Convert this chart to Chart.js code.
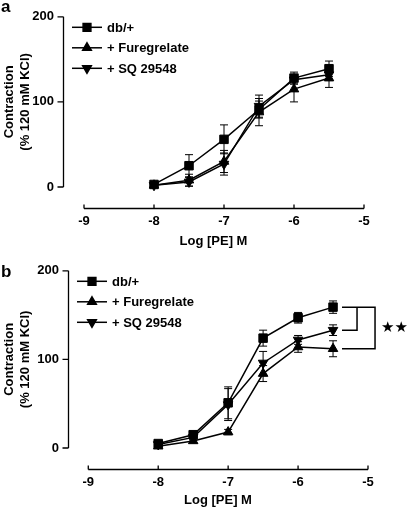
<!DOCTYPE html>
<html>
<head>
<meta charset="utf-8">
<script src="https://cdn.jsdelivr.net/npm/chart.js@4/dist/chart.umd.min.js"></script>
<style>
  html, body { margin: 0; padding: 0; background: #fff; }
  .panel { position: absolute; left: 0; width: 407px; height: 254px; }
</style>
</head>
<body>
<div class="panel" style="top:0"><canvas id="chartA"></canvas></div>
<div class="panel" style="top:254px"><canvas id="chartB"></canvas></div>
<script>
var logConc = [-8, -7.5, -7, -6.5, -6, -5.5];
var seriesNames = ['db/+', '+ Furegrelate', '+ SQ 29548'];
var xTicks = [-9, -8, -7, -6, -5];
var yTicks = [0, 100, 200];

// panel a
var aControl = [3, 25, 56, 91, 128, 139];
var aControlErr = [2, 13, 17, 10, 7, 9];
var aFure = [2, 8, 30, 88, 115, 128];
var aFureErr = [1, 7, 13, 16, 15, 11];
var aSQ = [2, 6, 27, 95, 126, 132];
var aSQErr = [1, 5, 13, 13, 5, 7];

// panel b
var bControl = [5, 15, 51, 124, 147, 159];
var bControlErr = [3, 3, 18, 9, 6, 7];
var bFure = [2, 8, 18, 84, 114, 112];
var bFureErr = [2, 2, 3, 9, 6, 9];
var bSQ = [4, 12, 49, 96, 122, 133];
var bSQErr = [2, 3, 18, 13, 5, 6];

var FONT = 'Liberation Sans, Arial, Helvetica, sans-serif';

function pts(vals) {
  return logConc.map(function (x, i) { return { x: x, y: vals[i] }; });
}

function makeSet(label, vals, errs, style, rot, r) {
  return {
    label: label,
    data: pts(vals),
    errors: errs,
    borderColor: '#000',
    borderWidth: 1.5,
    pointStyle: style,
    pointRotation: rot,
    pointRadius: r,
    pointBackgroundColor: '#000',
    pointBorderColor: '#000',
    pointBorderWidth: 1,
    clip: false,
    tension: 0
  };
}

// error bars, axes, legend, panel letter, brackets
var extras = {
  id: 'extras',
  beforeDatasetsDraw: function (chart) {
    var ctx = chart.ctx, xs = chart.scales.x, ys = chart.scales.y;
    ctx.save();
    ctx.strokeStyle = '#000';
    ctx.lineWidth = 1;
    chart.data.datasets.forEach(function (ds) {
      ds.data.forEach(function (p, i) {
        var e = ds.errors[i];
        if (!e) return;
        var x = xs.getPixelForValue(p.x);
        var y1 = ys.getPixelForValue(p.y + e), y2 = ys.getPixelForValue(p.y - e);
        ctx.beginPath();
        ctx.moveTo(x, y1); ctx.lineTo(x, y2);
        ctx.moveTo(x - 4, y1); ctx.lineTo(x + 4, y1);
        ctx.moveTo(x - 4, y2); ctx.lineTo(x + 4, y2);
        ctx.stroke();
      });
    });
    ctx.restore();
  },
  afterDraw: function (chart) {
    var ctx = chart.ctx, xs = chart.scales.x, ys = chart.scales.y;
    var area = chart.chartArea;
    var o = chart.options.plugins.extras;
    ctx.save();
    ctx.strokeStyle = '#000';
    ctx.fillStyle = '#000';
    ctx.lineWidth = 1.3;

    // y axis
    var ax = Math.round(area.left) + 0.5;
    ctx.beginPath();
    ctx.moveTo(ax, ys.getPixelForValue(yTicks[0]));
    ctx.lineTo(ax, ys.getPixelForValue(yTicks[yTicks.length - 1]));
    yTicks.forEach(function (v) {
      var y = ys.getPixelForValue(v);
      ctx.moveTo(ax, y); ctx.lineTo(ax - 6, y);
    });
    ctx.stroke();

    // x axis, detached below the plot
    var ay = Math.round(area.bottom + o.xGap) + 0.5;
    ctx.beginPath();
    ctx.moveTo(xs.getPixelForValue(xTicks[0]), ay);
    ctx.lineTo(xs.getPixelForValue(xTicks[xTicks.length - 1]), ay);
    xTicks.forEach(function (v) {
      var x = xs.getPixelForValue(v);
      ctx.moveTo(x, ay); ctx.lineTo(x, ay - 4);
    });
    ctx.stroke();

    // legend
    ctx.font = 'bold 13px ' + FONT;
    ctx.textBaseline = 'middle';
    chart.data.datasets.forEach(function (ds, i) {
      var y = area.top + 10.5 + i * 20.5;
      var x0 = area.left + 9;
      ctx.lineWidth = 1.5;
      ctx.beginPath();
      ctx.moveTo(x0, y); ctx.lineTo(x0 + 30, y);
      ctx.stroke();
      Chart.helpers.drawPoint(ctx, {
        pointStyle: ds.pointStyle, rotation: ds.pointRotation,
        radius: ds.pointRadius - 0.5, borderWidth: 1
      }, x0 + 15, y);
      ctx.fillText(ds.label, area.left + 44, y + 1);
    });

    // panel letter
    ctx.font = 'bold 17px ' + FONT;
    ctx.textBaseline = 'alphabetic';
    ctx.fillText(o.letter, 1, o.letterY);

    // significance brackets
    if (o.brackets) {
      var sets = chart.data.datasets;
      var last = logConc.length - 1;
      var xp = xs.getPixelForValue(logConc[last]);
      var yc = ys.getPixelForValue(sets[0].data[last].y);
      var yf = ys.getPixelForValue(sets[1].data[last].y);
      var yq = ys.getPixelForValue(sets[2].data[last].y);
      var x1 = xp + 9, x2 = xp + 24, x3 = xp + 42;
      ctx.lineWidth = 1.5;
      ctx.beginPath();
      ctx.moveTo(x1, yc); ctx.lineTo(x3, yc); ctx.lineTo(x3, yf); ctx.lineTo(x1, yf);
      ctx.moveTo(x2, yc); ctx.lineTo(x2, yq); ctx.lineTo(x1, yq);
      ctx.stroke();
      ctx.font = '15px DejaVu Sans, sans-serif';
      ctx.textBaseline = 'middle';
      ctx.fillText('\u2605\u2605', x3 + 6, (yc + yf) / 2);
    }
    ctx.restore();
  }
};

function makeChart(id, letter, letterY, sets, xMin, pad, brackets, titleBottom) {
  return new Chart(document.getElementById(id), {
    type: 'line',
    data: { datasets: sets },
    options: {
      responsive: true,
      maintainAspectRatio: false,
      animation: false,
      layout: { padding: { left: 0, top: pad.top, right: pad.right, bottom: 0 } },
      plugins: {
        legend: { display: false },
        tooltip: { enabled: false },
        extras: { letter: letter, letterY: letterY, xGap: 21, brackets: brackets }
      },
      scales: {
        x: {
          type: 'linear',
          min: xMin,
          max: -5,
          afterBuildTicks: function (s) { s.ticks = xTicks.map(function (v) { return { value: v }; }); },
          afterFit: function (s) { s.height = pad.xHeight; },
          grid: { display: false, drawTicks: false },
          border: { display: false },
          ticks: { color: '#000', padding: 27, font: { family: FONT, size: 13, weight: 'bold' } },
          title: {
            display: true, text: 'Log [PE] M', color: '#000',
            padding: { top: 0, bottom: titleBottom },
            font: { family: FONT, size: 13, weight: 'bold' }
          }
        },
        y: {
          min: 0,
          max: 200,
          afterBuildTicks: function (s) { s.ticks = yTicks.map(function (v) { return { value: v }; }); },
          afterFit: function (s) { s.width = pad.axisLeft; },
          grid: { display: false, drawTicks: false },
          border: { display: false },
          ticks: { color: '#000', padding: 9, font: { family: FONT, size: 13, weight: 'bold' } },
          title: {
            display: true, text: ['Contraction', '(% 120 mM KCl)'], color: '#000',
            padding: { top: 2, bottom: 0 },
            font: { family: FONT, size: 13, weight: 'bold' }
          }
        }
      }
    },
    plugins: [extras]
  });
}

makeChart('chartA', 'a', 12, [
  makeSet(seriesNames[0], aControl, aControlErr, 'rect', 0, 6),
  makeSet(seriesNames[1], aFure, aFureErr, 'triangle', 0, 5.5),
  makeSet(seriesNames[2], aSQ, aSQErr, 'triangle', 180, 5.5)
], -9.3, { top: 7, right: 43, axisLeft: 63, xHeight: 67 }, false, 5);

makeChart('chartB', 'b', 23, [
  makeSet(seriesNames[0], bControl, bControlErr, 'rect', 0, 6),
  makeSet(seriesNames[1], bFure, bFureErr, 'triangle', 0, 5.5),
  makeSet(seriesNames[2], bSQ, bSQErr, 'triangle', 180, 5.5)
], -9.29, { top: 15, right: 39, axisLeft: 68, xHeight: 60 }, true, 0);
</script>
</body>
</html>
